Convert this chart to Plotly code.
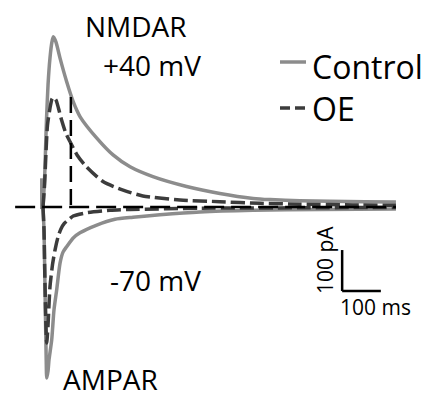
import plotly.graph_objects as go

# Evoked currents: time (ms) after stimulus, current (pA)
t_nmda_ctrl = [0, 4, 6.5, 9, 13, 18, 23, 26.6, 33.6, 44, 61, 78, 96, 139, 181, 225, 284, 371, 457, 543, 587, 664, 742, 832, 912]
i_nmda_ctrl = [0, 66, 139, 212, 298, 363, 402, 415, 402, 363, 306, 257, 220, 168, 127, 98, 74, 50, 33, 21, 18, 15, 14, 13, 12]

t_nmda_oe = [0, 4, 8, 11.6, 18, 23, 27, 33.6, 40, 48, 59, 70, 88, 108.5, 155, 207, 258, 354, 457, 561, 664, 800, 912]
i_nmda_oe = [0, 54, 139, 200, 241, 263, 268, 261, 241, 212, 180, 159, 127, 102, 62, 41, 27, 17, 13, 9, 7, 5, 4]

t_ampa_ctrl = [0, 2.6, 4, 6.5, 8.3, 9.6, 13, 15.5, 22.5, 28.4, 35.4, 44, 51.7, 61, 77.5, 95.6, 139, 186, 232.5, 302, 406, 543, 716, 912]
i_ampa_ctrl = [0, -56, -130, -276, -373, -417, -400, -373, -324, -251, -202, -137, -110, -97, -76, -63, -44, -30, -25, -19, -12, -8, -6, -5]

t_ampa_oe = [0, 2.6, 4, 6.5, 8.3, 9.6, 13, 18, 24.5, 31, 38.8, 46, 55, 66, 78, 113, 173, 225, 406, 664, 912]
i_ampa_oe = [0, -56, -130, -251, -310, -332, -288, -195, -141, -105, -73, -54, -40, -31, -22, -14, -8, -6, -3, -2, -1]

# Stimulus artifact, baseline and time of OE NMDAR peak
artifact_t = [-2.5, -2.5]
artifact_i = [70, -5]
baseline_t = [-72, 912]
baseline_i = [0, 0]
oe_peak_time = 72

# Scale bar (corner in data units, bar lengths)
bar_t0, bar_i0 = 773, -205
bar_len_t, bar_len_i = 100, 100

CTRL = "#8c8c8c"
OE = "#3c3c3c"
W, H = 426, 399

fig = go.Figure()

def trace(x, y, color, dash=None, width=3.5):
    fig.add_trace(go.Scatter(
        x=x, y=y, mode="lines",
        line=dict(color=color, width=width, dash=dash, shape="spline", smoothing=0.6),
        hoverinfo="skip", showlegend=False))

trace(artifact_t, artifact_i, CTRL, width=4)
trace(t_nmda_ctrl, i_nmda_ctrl, CTRL)
trace(t_ampa_ctrl, i_ampa_ctrl, CTRL)
trace(t_nmda_oe, i_nmda_oe, OE, dash="14px,5px")
trace(t_ampa_oe, i_ampa_oe, OE, dash="14px,5px")
trace(baseline_t, baseline_i, "#000000", dash="20px,7px", width=2.5)
oe_peak = max(i_nmda_oe)
trace([oe_peak_time, oe_peak_time], [oe_peak, 0], "#000000", dash="16px,7px", width=2.5)

# Scale bar
fig.add_shape(type="line", x0=bar_t0, x1=bar_t0, y0=bar_i0, y1=bar_i0 + bar_len_i,
              line=dict(color="black", width=2.5))
fig.add_shape(type="line", x0=bar_t0, x1=bar_t0 + bar_len_t, y0=bar_i0, y1=bar_i0,
              line=dict(color="black", width=2.5))

def px(x):
    return x / W

def py(y):
    return 1 - y / H

FONT = "Open Sans"

def label(text, x, y, size, xanchor="center", yanchor="middle", angle=0):
    fig.add_annotation(text=text, x=px(x), y=py(y), xref="paper", yref="paper",
                       xanchor=xanchor, yanchor=yanchor, showarrow=False,
                       textangle=angle, borderpad=0,
                       font=dict(family=FONT, size=size, color="black"))

label("NMDAR", 136, 26, 28)
label("+40 mV", 152, 65, 28)
label("-70 mV", 155, 280, 28)
label("AMPAR", 110, 399, 28, yanchor="bottom")
label("100 pA", 325, 260, 21, angle=-90)
label("100 ms", 375, 307, 21)

# Legend
fig.add_shape(type="line", xref="paper", yref="paper", x0=px(280), x1=px(306), y0=py(62), y1=py(62),
              line=dict(color=CTRL, width=3.5))
fig.add_shape(type="line", xref="paper", yref="paper", x0=px(280), x1=px(306), y0=py(108), y1=py(108),
              line=dict(color=OE, width=3.5, dash="10px,5px"))
label("Control", 311, 66, 32, xanchor="left")
label("OE", 311, 109, 32, xanchor="left")

x0 = -43 / 0.387
x1 = (W - 43) / 0.387
y_top = 207 / 0.41
y_bot = (207 - H) / 0.41

fig.update_layout(
    width=W, height=H,
    margin=dict(l=0, r=0, t=0, b=0),
    paper_bgcolor="white", plot_bgcolor="white",
    xaxis=dict(range=[x0, x1], visible=False, fixedrange=True),
    yaxis=dict(range=[y_bot, y_top], visible=False, fixedrange=True),
    showlegend=False,
)

fig.write_html("out.html")
